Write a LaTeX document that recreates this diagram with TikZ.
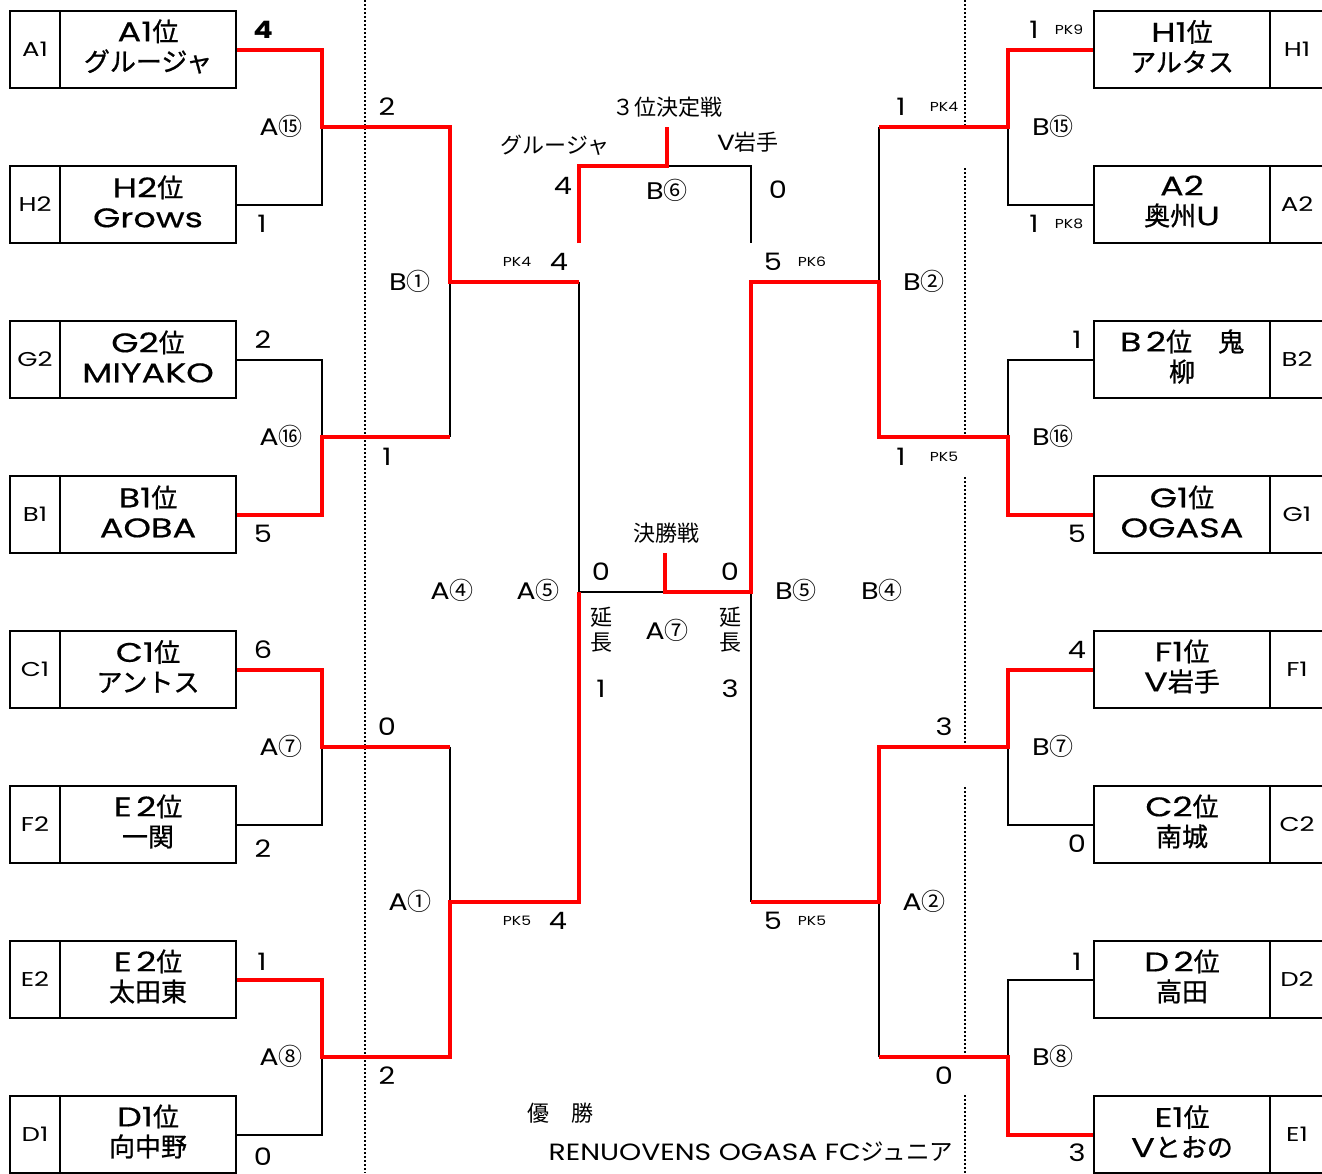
\documentclass[tikz,border=0pt]{standalone}
\usepackage{fontspec}
\setmainfont{Poppins}[FakeStretch=1.2]
\newfontfamily\cjkfam{Noto Sans CJK JP}
\newfontfamily\teamlat[FakeStretch=1.3,FakeBold=0.35]{Poppins}
\newfontfamily\teamcjk[FakeBold=0.9]{Noto Sans CJK JP}
\newfontfamily\codefam[FakeStretch=1.3]{Poppins}
\newcommand{\cj}[1]{{\cjkfam #1}}
\newcommand{\tj}[1]{{\teamcjk\fontsize{26}{30}\selectfont #1}}
\begin{document}
\begin{tikzpicture}[x=1pt,y=-1pt,
 mainbox/.style={draw, line width=2pt, minimum width=176pt, minimum height=77pt, inner sep=0pt},
 teamtext/.style={inner sep=0pt, align=center, yshift=3pt, font=\teamlat\fontsize{27}{30}\selectfont},
 codebox/.style={draw, line width=2pt, minimum width=50pt, minimum height=77pt, inner sep=0pt, font=\codefam\fontsize{20}{20}\selectfont},
 rcodebox/.style={codebox, minimum width=54pt},
 win/.style={draw=red, line width=4pt, line join=miter},
 lose/.style={draw=black, line width=2pt},
 sc/.style={inner sep=0pt, font=\fontsize{24}{24}\selectfont},
 pk/.style={inner sep=0pt, font=\fontsize{13}{13}\selectfont},
 mid/.style={inner sep=0pt, align=center, font=\fontsize{22}{25}\selectfont},
 dots/.style={line width=1.8pt, dash pattern=on 1.8pt off 2.2pt},
]
\useasboundingbox (0,0) rectangle (1322,1173);
\fill[white] (0,0) rectangle (1322,1173);
% dotted guides
\coordinate (dl0) at (365,0); \coordinate (dl1) at (365,1173);
\draw[dots] (dl0) -- (dl1);
\coordinate (dr0) at (965,0); \coordinate (dr1) at (965,126);
\coordinate (dr2) at (965,168); \coordinate (dr3) at (965,436);
\coordinate (dr4) at (965,477); \coordinate (dr5) at (965,746);
\coordinate (dr6) at (965,787); \coordinate (dr7) at (965,1056);
\coordinate (dr8) at (965,1095); \coordinate (dr9) at (965,1173);
\draw[dots] (dr0)--(dr1) (dr2)--(dr3) (dr4)--(dr5) (dr6)--(dr7) (dr8)--(dr9);

% left boxes
\node[mainbox] (L1) at (148,49.5) {};
\node[teamtext] (L1t) at (L1) {A1\tj{位}\\\tj{グルージャ}};
\node[codebox] (L1c) at (35,49.5) {A1};
\node[mainbox] (L2) at (148,204.5) {};
\node[teamtext] (L2t) at (L2) {H2\tj{位}\\Grows};
\node[codebox] (L2c) at (35,204.5) {H2};
\node[mainbox] (L3) at (148,359.5) {};
\node[teamtext] (L3t) at (L3) {G2\tj{位}\\MIYAKO};
\node[codebox] (L3c) at (35,359.5) {G2};
\node[mainbox] (L4) at (148,514.5) {};
\node[teamtext] (L4t) at (L4) {B1\tj{位}\\AOBA};
\node[codebox] (L4c) at (35,514.5) {B1};
\node[mainbox] (L5) at (148,669.5) {};
\node[teamtext] (L5t) at (L5) {C1\tj{位}\\\tj{アントス}};
\node[codebox] (L5c) at (35,669.5) {C1};
\node[mainbox] (L6) at (148,824.5) {};
\node[teamtext] (L6t) at (L6) {E\,2\tj{位}\\\tj{一関}};
\node[codebox] (L6c) at (35,824.5) {F2};
\node[mainbox] (L7) at (148,979.5) {};
\node[teamtext] (L7t) at (L7) {E\,2\tj{位}\\\tj{太田東}};
\node[codebox] (L7c) at (35,979.5) {E2};
\node[mainbox] (L8) at (148,1134.5) {};
\node[teamtext] (L8t) at (L8) {D1\tj{位}\\\tj{向中野}};
\node[codebox] (L8c) at (35,1134.5) {D1};
% right boxes
\node[mainbox] (R1) at (1182,49.5) {};
\node[teamtext] (R1t) at (R1) {H1\tj{位}\\\tj{アルタス}};
\node[rcodebox] (R1c) at (1297,49.5) {H1};
\node[mainbox] (R2) at (1182,204.5) {};
\node[teamtext] (R2t) at (R2) {A2\\\tj{奥州}U};
\node[rcodebox] (R2c) at (1297,204.5) {A2};
\node[mainbox] (R3) at (1182,359.5) {};
\node[teamtext] (R3t) at (R3) {B\,2\tj{位　鬼}\\\tj{柳}};
\node[rcodebox] (R3c) at (1297,359.5) {B2};
\node[mainbox] (R4) at (1182,514.5) {};
\node[teamtext] (R4t) at (R4) {G1\tj{位}\\OGASA};
\node[rcodebox] (R4c) at (1297,514.5) {G1};
\node[mainbox] (R5) at (1182,669.5) {};
\node[teamtext] (R5t) at (R5) {F1\tj{位}\\V\tj{岩手}};
\node[rcodebox] (R5c) at (1297,669.5) {F1};
\node[mainbox] (R6) at (1182,824.5) {};
\node[teamtext] (R6t) at (R6) {C2\tj{位}\\\tj{南城}};
\node[rcodebox] (R6c) at (1297,824.5) {C2};
\node[mainbox] (R7) at (1182,979.5) {};
\node[teamtext] (R7t) at (R7) {D\,2\tj{位}\\\tj{高田}};
\node[rcodebox] (R7c) at (1297,979.5) {D2};
\node[mainbox] (R8) at (1182,1134.5) {};
\node[teamtext] (R8t) at (R8) {E1\tj{位}\\V\tj{とおの}};
\node[rcodebox] (R8c) at (1297,1134.5) {E1};

% junction coordinates
\coordinate (a15) at (322,126.5); \coordinate (a15e) at (450,126.5);
\coordinate (a16) at (322,436.5); \coordinate (a16e) at (450,436.5);
\coordinate (a7) at (322,746.5);  \coordinate (a7e) at (450,746.5);
\coordinate (a8) at (322,1056.5); \coordinate (a8e) at (450,1056.5);
\coordinate (b1) at (450,281.5);  \coordinate (b1e) at (579,281.5);
\coordinate (a1) at (450,901.5);  \coordinate (a1e) at (579,901.5);
\coordinate (semiL) at (579,591.5);
\coordinate (fc) at (665,591.5); \coordinate (fctop) at (665,553);
\coordinate (semiR) at (751,591.5);
\coordinate (b2e) at (751,281.5); \coordinate (a2e) at (751,901.5);
\coordinate (b2) at (879,281.5); \coordinate (a2) at (879,901.5);
\coordinate (b15e) at (879,126.5); \coordinate (b15) at (1008,126.5);
\coordinate (b16e) at (879,436.5); \coordinate (b16) at (1008,436.5);
\coordinate (b7e) at (879,746.5);  \coordinate (b7) at (1008,746.5);
\coordinate (b8e) at (879,1056.5); \coordinate (b8) at (1008,1056.5);
\coordinate (t3L) at (579,243); \coordinate (t3Lc) at (579,166);
\coordinate (t3c) at (667,166); \coordinate (t3top) at (667,127);
\coordinate (t3Rc) at (751,166); \coordinate (t3R) at (751,243);

% losing (black) lines
\draw[lose] (L2.east) -| (a15);
\draw[lose] (L3.east) -| (a16);
\draw[lose] (L6.east) -| (a7);
\draw[lose] (L8.east) -| (a8);
\draw[lose] (a16e) -- (b1);
\draw[lose] (a7e) -- (a1);
\draw[lose] (b1e) -- (semiL) -- (fc);
\draw[lose] (semiR) -- (a2e);
\draw[lose] (R2.west) -| (b15);
\draw[lose] (R3.west) -| (b16);
\draw[lose] (R6.west) -| (b7);
\draw[lose] (R7.west) -| (b8);
\draw[lose] (b15e) -- (b2);
\draw[lose] (a2) -- (b8e);
\draw[lose] (t3c) -- (t3Rc) -- (t3R);

% winning (red) lines
\draw[win] (L1.east) -| (a15) -- (a15e) -- (b1) -- (b1e);
\draw[win] (L4.east) -| (a16) -- (a16e);
\draw[win] (L5.east) -| (a7) -- (a7e);
\draw[win] (L7.east) -| (a8) -- (a8e) -- (a1) -- (a1e) -- (semiL);
\draw[win] (R1.west) -| (b15) -- (b15e);
\draw[win] (R4.west) -| (b16) -- (b16e) -- (b2) -- (b2e) -- (semiR) -- (fc) -- (fctop);
\draw[win] (R5.west) -| (b7) -- (b7e) -- (a2) -- (a2e);
\draw[win] (R8.west) -| (b8) -- (b8e);
\draw[win] (t3L) -- (t3Lc) -- (t3c) -- (t3top);

% left labels
\node[sc] (sA1) at (263,30) {\bfseries 4};
\node[sc] (sH2) at (262,224) {1};
\node[sc] (mA15) at (281,126) {A\cj{⑮}};
\node[sc] (sA15) at (387,107) {2};
\node[sc] (mB1) at (410,281) {B\cj{①}};
\node[sc] (sA16) at (387,457) {1};
\node[sc] (sG2) at (263,340) {2};
\node[sc] (mA16) at (281,436) {A\cj{⑯}};
\node[sc] (sB1) at (263,534) {5};
\node[sc] (sC1) at (263,650) {6};
\node[sc] (mA7) at (281,746) {A\cj{⑦}};
\node[sc] (sF2) at (263,849) {2};
\node[sc] (sA7) at (387,727) {0};
\node[sc] (mA1) at (410,901) {A\cj{①}};
\node[sc] (sE2) at (262,962) {1};
\node[sc] (mA8) at (281,1056) {A\cj{⑧}};
\node[sc] (sD1) at (263,1157) {0};
\node[sc] (sA8) at (387,1076) {2};
\node[pk] (pA1) at (517,921) {PK5};
\node[sc] (sA1w) at (558,921) {4};
\node[pk] (pB1) at (517,262) {PK4};
\node[sc] (sB1w) at (559,262) {4};
% right labels
\node[sc] (sH1) at (1034,30) {1};
\node[pk] (pH1) at (1069,30) {PK9};
\node[sc] (mB15) at (1053,126) {B\cj{⑮}};
\node[sc] (sA2) at (1034,224) {1};
\node[pk] (pA2) at (1069,224) {PK8};
\node[sc] (sB15) at (901,107) {1};
\node[pk] (pB15) at (944,107) {PK4};
\node[sc] (mB2) at (924,281) {B\cj{②}};
\node[sc] (sB2) at (1077,340) {1};
\node[sc] (mB16) at (1053,436) {B\cj{⑯}};
\node[sc] (sB16) at (901,457) {1};
\node[pk] (pB16) at (944,457) {PK5};
\node[sc] (sG1) at (1077,534) {5};
\node[sc] (sF1) at (1077,650) {4};
\node[sc] (mB7) at (1053,746) {B\cj{⑦}};
\node[sc] (sC2) at (1077,844) {0};
\node[sc] (sB7) at (944,727) {3};
\node[sc] (mA2) at (924,901) {A\cj{②}};
\node[sc] (sD2) at (1077,962) {1};
\node[sc] (mB8) at (1053,1056) {B\cj{⑧}};
\node[sc] (sE1) at (1077,1153) {3};
\node[sc] (sB8) at (944,1076) {0};
\node[sc] (sA2w) at (773,921) {5};
\node[pk] (pA2w) at (812,921) {PK5};
\node[sc] (sB2w) at (773,262) {5};
\node[pk] (pB2w) at (812,262) {PK6};
% centre
\node[mid] (t3) at (667,107) {\cj{３位決定戦}};
\node[mid] (t3l) at (555,145) {\cj{グルージャ}};
\node[mid] (t3r) at (748,142) {V\cj{岩手}};
\node[sc] (t3ls) at (563,186) {4};
\node[sc] (t3m) at (667,190) {B\cj{⑥}};
\node[sc] (t3rs) at (778,190) {0};
\node[mid] (fin) at (666,533) {\cj{決勝戦}};
\node[sc] (fls) at (601,572) {0};
\node[sc] (frs) at (730,572) {0};
\node[mid] (fle) at (601,630) {\cj{延}\\\cj{長}};
\node[sc] (fm) at (667,630) {A\cj{⑦}};
\node[mid] (fre) at (730,630) {\cj{延}\\\cj{長}};
\node[sc] (flx) at (601,689) {1};
\node[sc] (frx) at (730,689) {3};
\node[sc] (mA4) at (452,590) {A\cj{④}};
\node[sc] (mA5) at (538,590) {A\cj{⑤}};
\node[sc] (mB5) at (796,590) {B\cj{⑤}};
\node[sc] (mB4) at (882,590) {B\cj{④}};
\node[mid] (champ) at (560,1113) {\cj{優　勝}};
\node[mid, font=\fontsize{23.5}{25}\selectfont] (champn) at (751,1152) {RENUOVENS OGASA FC\cj{ジュニア}};
\end{tikzpicture}
\end{document}
